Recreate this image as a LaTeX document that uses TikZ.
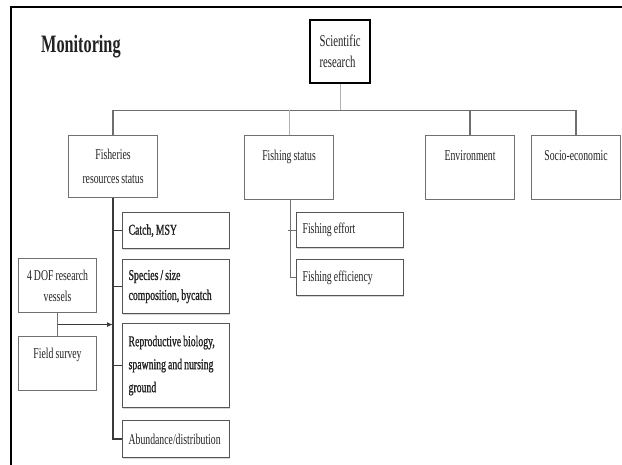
\documentclass[tikz,border=0pt]{standalone}
\usepackage{fontspec}
\setmainfont{Liberation Serif}[FakeStretch=0.65, WordSpace=0.85]
\newfontfamily\heavyserif{Liberation Serif}[FakeStretch=0.65, WordSpace=0.85, FakeBold=1]
\usetikzlibrary{arrows.meta,calc,shadows}

\definecolor{ink}{HTML}{222222}
\definecolor{boxgray}{HTML}{707070}
\definecolor{childgray}{HTML}{555555}
\definecolor{busgray}{HTML}{6E6E6E}
\definecolor{lightline}{HTML}{B0B0B0}
\definecolor{trunk}{HTML}{3A3A3A}

\begin{document}
\begin{tikzpicture}[x=1pt,y=-1pt,
  every node/.style={text=ink, font=\fontsize{15pt}{21pt}\selectfont},
  headbox/.style={draw=boxgray, line width=1.1pt, inner sep=0pt,
    minimum width=89pt, minimum height=64pt, anchor=north west, align=center},
  sidebox/.style={draw=boxgray, line width=1.1pt, inner sep=0pt,
    minimum width=78pt, minimum height=54pt, anchor=north west, align=center},
  childbox/.style={draw=childgray, fill=white, line width=1.2pt, inner xsep=6pt, inner ysep=0pt,
    text width=95pt, align=left, anchor=north west,
    execute at begin node={\spaceskip=0pt\xspaceskip=0pt\relax},
    drop shadow={shadow xshift=0.8pt, shadow yshift=-1.1pt, fill=black!32}},
  heavy/.style={font=\heavyserif\fontsize{15pt}{#1}\selectfont},
  toptext/.style={text depth=#1},
  bus/.style={draw=busgray, line width=1.2pt},
  feed/.style={draw=trunk, line width=1.4pt},
  thin/.style={draw=lightline, line width=0.9pt}
]
\useasboundingbox (0,0) rectangle (622,464);

% frame (only its top and left sides are in view)
\coordinate (frameBL) at (11,465);
\coordinate (frameTL) at (11,7);
\coordinate (frameTR) at (623,7);
\draw[line width=2pt, black] (frameBL) -- (frameTL) -- (frameTR);

% title
\node[anchor=base west, inner sep=0pt, font=\bfseries\fontsize{25pt}{30pt}\selectfont] (title) at (41,52) {Monitoring};

% root
\node[draw=black, line width=2.4pt, inner sep=0pt, minimum width=60pt, minimum height=63pt,
      anchor=north west, align=left, font=\fontsize{16.5pt}{21pt}\selectfont]
      (sci) at (309,19) {Scientific\\research};

% first level
\node[headbox, minimum height=62pt, font=\fontsize{15pt}{24pt}\selectfont]
      (fish) at (68,135) {Fisheries\\resources status};
\node[headbox, toptext=24pt] (fstat) at (244,135) {Fishing status};
\node[headbox, toptext=24pt] (env) at (425,135) {Environment};
\node[headbox, toptext=24pt] (soc) at (531,135) {Socio-economic};

% fisheries resources details
\node[childbox, heavy=21pt, minimum height=36pt] (catch) at (122,212) {Catch, MSY};
\node[childbox, heavy=20pt, minimum height=54pt]
      (species) at (122,259) {Species / size\\composition, bycatch};
\node[childbox, heavy=23pt, minimum height=84pt]
      (repro) at (122,323) {Reproductive biology,\\spawning and nursing\\ground};
\node[childbox, minimum height=37pt] (abund) at (122,420) {Abundance/distribution};

% fishing status details
\node[childbox, minimum height=35pt] (effort) at (296,212) {Fishing effort};
\node[childbox, minimum height=36pt] (effic) at (296,259) {Fishing efficiency};

% data sources
\node[sidebox] (dof) at (18,258) {4 DOF research\\vessels};
\node[sidebox, toptext=20pt] (field) at (18,336) {Field survey};

% tree connectors
\draw[thin] (sci.south) -- ++(0,26) coordinate (busy);
\draw[bus] (fish.north) -- (fish.north |- busy) -| (soc.north);
\draw[thin] (fstat.north) -- (fstat.north |- busy);
\draw[bus] (env.north) -- (env.north |- busy);

% fisheries trunk
\draw[feed] (fish.south) |- (abund.west);
\draw[feed] (catch.west) -- (catch.west -| fish.south);
\draw[feed] (species.west) -- (species.west -| fish.south);
\draw[feed] (repro.west) -- (repro.west -| fish.south);

% fishing status trunk
\draw[draw=boxgray, line width=1pt] ([xshift=1.5pt]fstat.south) |- (effic.west);
\draw[draw=boxgray, line width=1pt] (effort.west) -- ++(-8,0);

% survey sources feed the fisheries trunk
\draw[draw=boxgray, line width=1.1pt] (dof.south) -- (field.north);
\coordinate (src) at ($(dof.south)!0.5!(field.north)$);
\draw[draw=trunk, line width=1.4pt, -{Latex[length=6pt,width=5pt]}] (src) -- (src -| fish.south);
\end{tikzpicture}
\end{document}
